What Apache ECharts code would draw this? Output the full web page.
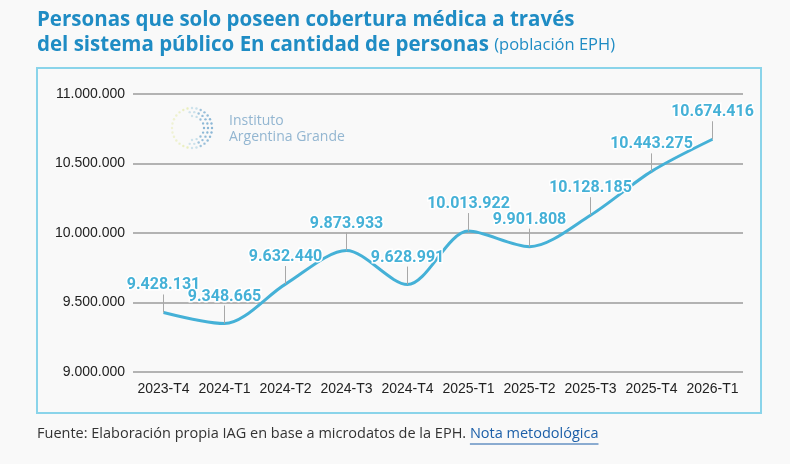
<!DOCTYPE html>
<html>
<head>
<meta charset="utf-8">
<script src="https://cdn.jsdelivr.net/npm/echarts@6/dist/echarts.min.js"></script>
<style>
  html, body { margin: 0; padding: 0; background: #f9f9f9; }
  #main { width: 790px; height: 464px; }
</style>
</head>
<body>
<div id="main"></div>
<script>
// periodos (trimestres EPH)
var periodos = ['2023-T4', '2024-T1', '2024-T2', '2024-T3', '2024-T4', '2025-T1', '2025-T2', '2025-T3', '2025-T4', '2026-T1'];
// personas con cobertura solo publica
var personas = [9428131, 9348665, 9632440, 9873933, 9628991, 10013922, 9901808, 10128185, 10443275, 10674416];
var yTicks = [9000000, 9500000, 10000000, 10500000, 11000000];

function fmt(v) {
    return String(Math.round(v)).replace(/\B(?=(\d{3})+(?!\d))/g, '.');
}

var azul = '#45b1d7';

// ancho del texto de la fuente, para ubicar el subrayado del link
var ctx = document.createElement('canvas').getContext('2d');
ctx.font = '14.5px "Open Sans"';
var fuenteTxt = 'Fuente: Elaboración propia IAG en base a microdatos de la EPH. ';
var linkTxt = 'Nota metodológica';
var x0 = 37 + ctx.measureText(fuenteTxt).width;
var x1 = x0 + ctx.measureText(linkTxt).width;

// logo decorativo: anillo de puntos
var logo = [];
var cx = 192, cy = 128;
[12, 16, 20].forEach(function (r, k) {
    var n = 16 + k * 6;
    for (var i = 0; i < n; i++) {
        var a = i / n * Math.PI * 2;
        var t = (Math.cos(a) + 1) / 2; // 0 izquierda, 1 derecha
        if (k < 2 && t < 0.35) continue;
        var col = t < 0.4 ? '#d9e27e' : (t < 0.7 ? '#a9cfe0' : '#6fa6cc');
        logo.push({
            type: 'circle',
            shape: { cx: cx + r * Math.cos(a), cy: cy + r * Math.sin(a), r: 1.2 },
            style: { fill: col, opacity: 0.3 + 0.5 * t },
            silent: true, z: 1
        });
    }
});

var myChart = echarts.init(document.getElementById('main'));
myChart.setOption({
    backgroundColor: '#f9f9f9',
    animation: false,
    grid: { left: 133, right: 47, top: 94, bottom: 92 },
    xAxis: {
        type: 'category',
        data: periodos,
        boundaryGap: true,
        axisLine: { show: false },
        axisTick: { show: false },
        axisLabel: { color: '#222', fontSize: 14, fontFamily: 'Liberation Sans', margin: 10, interval: 0 }
    },
    yAxis: {
        type: 'value',
        min: yTicks[0],
        max: yTicks[yTicks.length - 1],
        interval: 500000,
        axisLine: { show: false },
        axisTick: { show: false },
        axisLabel: { color: '#222', fontSize: 14, fontFamily: 'Liberation Sans', margin: 8, formatter: fmt },
        splitLine: { lineStyle: { color: '#b3b3b3', width: 2 } }
    },
    graphic: [
        {
            type: 'text', left: 37, top: 8,
            style: {
                text: 'Personas que solo poseen cobertura médica a través\ndel sistema público En cantidad de personas {s|(población EPH)}',
                font: 'bold 20.5px "Open Sans"',
                fill: '#1f8cc4',
                lineHeight: 25,
                rich: { s: { font: '16.5px "Open Sans"', fill: '#1f8cc4' } }
            }
        },
        {
            type: 'rect',
            shape: { x: 37, y: 68, width: 724, height: 345 },
            style: { fill: 'none', stroke: '#8ad4ea', lineWidth: 2 },
            silent: true
        },
        {
            type: 'text', left: 229, top: 113,
            style: { text: 'Instituto\nArgentina Grande', font: '14px "Open Sans"', fill: '#93b6d1', lineHeight: 16 },
            silent: true
        },
        {
            type: 'text', left: 37, top: 426,
            style: {
                text: fuenteTxt + '{l|' + linkTxt + '}',
                font: '14.5px "Open Sans"',
                fill: '#333',
                rich: { l: { font: '14.5px "Open Sans"', fill: '#1c5fa8' } }
            }
        },
        {
            type: 'line',
            shape: { x1: x0, y1: 444, x2: x1, y2: 444 },
            style: { stroke: '#1c5fa8', lineWidth: 1 }
        }
    ].concat(logo),
    series: [
        {
            name: 'Personas',
            type: 'line',
            data: personas,
            smooth: 0.3,
            showSymbol: false,
            lineStyle: { color: azul, width: 3 },
            z: 3
        },
        {
            name: 'Etiquetas',
            type: 'custom',
            data: personas.map(function (v, i) { return [i, v]; }),
            z: 5,
            renderItem: function (params, api) {
                var p = api.coord([api.value(0), api.value(1)]);
                return {
                    type: 'group',
                    children: [
                        {
                            type: 'line',
                            shape: { x1: p[0], y1: p[1], x2: p[0], y2: p[1] - 18 },
                            style: { stroke: '#a8a8a8', lineWidth: 1 },
                            z2: 1
                        },
                        {
                            type: 'text',
                            x: p[0], y: p[1] - 27,
                            style: {
                                text: fmt(api.value(1)),
                                font: 'bold 16px Roboto',
                                fill: azul,
                                stroke: '#ffffff',
                                lineWidth: 3,
                                align: 'center',
                                verticalAlign: 'middle'
                            },
                            z2: 10
                        }
                    ]
                };
            }
        }
    ]
});
</script>
</body>
</html>
